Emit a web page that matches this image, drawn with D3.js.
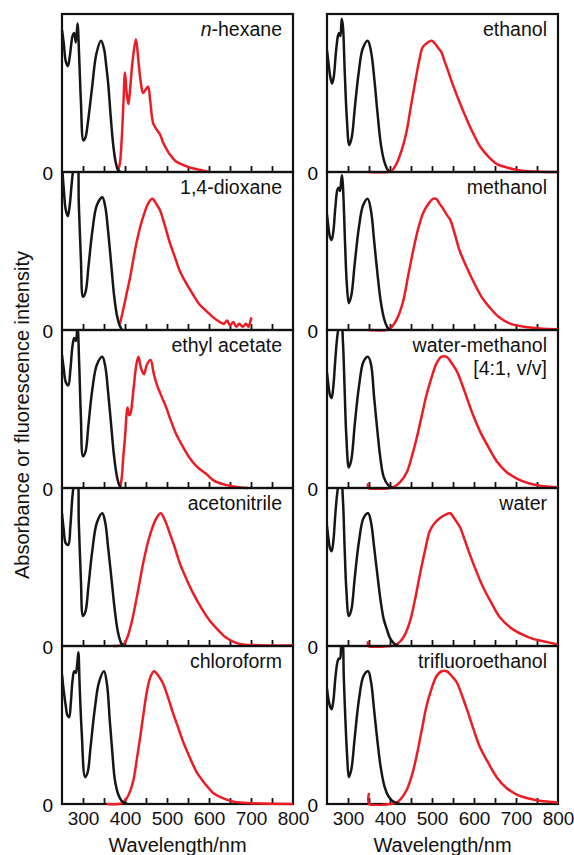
<!DOCTYPE html>
<html>
<head>
<meta charset="utf-8">
<script src="https://cdn.jsdelivr.net/npm/d3@7"></script>
<style>
  body { margin: 0; background: #fff; }
  svg { display: block; font-family: "Liberation Sans", Arial, sans-serif; }
</style>
</head>
<body>
<svg id="chart" width="574" height="855"></svg>
<script>
// wavelength axis
const wlDomain = [250, 800];
const minorTicks = [300, 350, 400, 450, 500, 550, 600, 650, 700, 750];
const tickLabels = [300, 400, 500, 600, 700, 800];

const leftSolvents = ['n-hexane', '1,4-dioxane', 'ethyl acetate', 'acetonitrile', 'chloroform'];
const rightSolvents = ['ethanol', 'methanol', 'water-methanol|[4:1, v/v]', 'water', 'trifluoroethanol'];

// [wavelength nm, normalised intensity]
const absHexane = [[250,0.90],[254,0.82],[259,0.70],[264,0.67],[269,0.74],[275,0.86],[279,0.88],[283,0.82],[287,0.94],[291,0.72],[295,0.45],[301,0.20],[306,0.22],[311,0.30],[321,0.52],[332,0.75],[343,0.83],[350,0.78],[355,0.68],[360,0.56],[366,0.35],[372,0.17],[378,0.06],[384,0.01],[390,0]];
const flHexane = [[383,0],[388,0.06],[392,0.2],[396,0.42],[400,0.63],[404,0.50],[408,0.43],[412,0.52],[418,0.70],[426,0.84],[432,0.70],[438,0.56],[443,0.50],[449,0.52],[455,0.54],[460,0.45],[467,0.31],[475,0.27],[483,0.24],[490,0.19],[500,0.14],[507,0.11],[520,0.07],[538,0.045],[558,0.025],[579,0.013],[600,0]];

const absDioxane = [[250,1.05],[254,0.90],[259,0.76],[264,0.72],[268,0.78],[274,0.95],[279,1.05],[286,1.08],[290,0.80],[295,0.45],[300,0.21],[306,0.24],[313,0.40],[322,0.62],[333,0.79],[346,0.84],[353,0.78],[360,0.62],[367,0.42],[374,0.22],[381,0.09],[387,0.03],[393,0]];
const flDioxane = [[388,0.04],[395,0.12],[403,0.22],[412,0.33],[420,0.45],[428,0.56],[436,0.65],[445,0.73],[455,0.80],[465,0.83],[474,0.80],[483,0.76],[495,0.66],[507,0.55],[519,0.46],[531,0.37],[547,0.29],[563,0.22],[578,0.16],[594,0.12],[610,0.08],[626,0.05],[636,0.04],[643,0.06],[650,0.03],[658,0.05],[665,0.02],[672,0.04],[680,0.02],[688,0.04],[694,0.02],[698,0.05],[701,0.08]];

const absEthylAcetate = [[250,0.84],[254,0.76],[259,0.67],[265,0.65],[270,0.75],[275,0.90],[279,0.95],[283,0.93],[287,1.02],[291,0.78],[295,0.45],[300,0.20],[306,0.23],[313,0.40],[322,0.62],[333,0.78],[346,0.83],[353,0.77],[360,0.60],[367,0.40],[374,0.20],[381,0.07],[386,0.02],[390,0]];
const flEthylAcetate = [[388,0],[392,0.06],[396,0.20],[400,0.32],[406,0.51],[410,0.46],[413,0.47],[420,0.62],[427,0.78],[432,0.83],[438,0.76],[445,0.72],[452,0.78],[461,0.81],[468,0.73],[475,0.66],[487,0.58],[498,0.51],[510,0.42],[522,0.34],[538,0.26],[554,0.19],[573,0.13],[593,0.09],[610,0.05],[626,0.03],[640,0.02],[657,0.01],[693,0]];

const absAcetonitrile = [[250,0.84],[254,0.74],[259,0.65],[265,0.64],[270,0.76],[275,0.95],[280,1.04],[286,1.06],[290,0.78],[295,0.42],[300,0.19],[306,0.22],[313,0.38],[322,0.60],[333,0.78],[346,0.84],[353,0.78],[360,0.62],[368,0.42],[376,0.22],[383,0.09],[389,0.03],[395,0]];
const flAcetonitrile = [[372,0],[396,0.01],[405,0.05],[413,0.12],[420,0.20],[431,0.35],[443,0.52],[454,0.65],[464,0.74],[475,0.81],[485,0.84],[496,0.79],[507,0.71],[519,0.62],[531,0.52],[547,0.42],[563,0.33],[582,0.24],[602,0.16],[622,0.10],[642,0.05],[660,0.025],[681,0.01],[720,0.005],[760,0.003],[800,0.005]];

const absChloroform = [[250,0.82],[254,0.72],[259,0.62],[263,0.56],[267,0.55],[271,0.64],[275,0.78],[279,0.84],[283,0.83],[286,0.88],[289,0.96],[292,0.75],[297,0.45],[305,0.17],[311,0.20],[318,0.36],[328,0.60],[338,0.77],[350,0.84],[357,0.76],[364,0.52],[370,0.32],[376,0.15],[384,0.06],[392,0.02],[405,0]];
const flChloroform = [[356,0],[385,0],[396,0.01],[405,0.04],[412,0.08],[420,0.15],[428,0.28],[436,0.42],[444,0.57],[452,0.71],[460,0.80],[469,0.84],[480,0.81],[491,0.76],[503,0.67],[515,0.57],[527,0.48],[539,0.39],[555,0.29],[571,0.20],[590,0.13],[610,0.07],[630,0.04],[658,0.015],[700,0.005],[800,0]];

const absEthanol = [[250,0.77],[254,0.68],[258,0.60],[262,0.56],[266,0.60],[271,0.75],[276,0.86],[279,0.88],[282,0.86],[285,0.97],[288,0.92],[292,0.65],[297,0.35],[303,0.17],[309,0.22],[316,0.40],[325,0.62],[335,0.78],[347,0.83],[355,0.76],[363,0.58],[370,0.38],[378,0.18],[386,0.07],[393,0.02],[400,0]];
const flEthanol = [[348,0],[395,0],[403,0.005],[415,0.05],[428,0.14],[439,0.25],[450,0.42],[462,0.60],[470,0.71],[478,0.79],[490,0.82],[499,0.83],[508,0.81],[516,0.78],[522,0.76],[530,0.70],[537,0.65],[550,0.55],[566,0.44],[580,0.35],[597,0.25],[615,0.16],[637,0.09],[655,0.05],[676,0.03],[700,0.015],[730,0.005],[800,0]];

const absMethanol = [[250,0.73],[253,0.66],[257,0.59],[261,0.57],[265,0.62],[270,0.78],[275,0.89],[278,0.90],[281,0.88],[284,0.95],[286,0.98],[289,0.85],[293,0.55],[297,0.30],[302,0.17],[308,0.22],[316,0.42],[326,0.65],[336,0.79],[347,0.83],[355,0.75],[362,0.57],[370,0.36],[378,0.18],[386,0.07],[393,0.02],[400,0]];
const flMethanol = [[348,0],[392,0],[400,0.01],[410,0.04],[420,0.09],[432,0.19],[443,0.34],[455,0.50],[467,0.64],[479,0.74],[492,0.80],[502,0.83],[510,0.83],[518,0.80],[526,0.77],[535,0.73],[543,0.70],[555,0.60],[566,0.50],[582,0.40],[598,0.31],[618,0.21],[638,0.14],[660,0.08],[686,0.04],[720,0.02],[757,0.01],[800,0.005]];

const absWaterMethanol = [[250,0.73],[253,0.66],[257,0.59],[261,0.57],[265,0.64],[270,0.82],[275,0.97],[280,1.04],[284,1.04],[288,0.92],[292,0.62],[296,0.33],[302,0.13],[308,0.18],[316,0.40],[326,0.64],[337,0.80],[348,0.83],[355,0.78],[362,0.58],[370,0.36],[378,0.17],[385,0.07],[395,0.02],[408,0]];
const flWaterMethanol = [[348,0.03],[349,0],[400,0],[412,0.01],[425,0.04],[440,0.10],[452,0.20],[463,0.31],[475,0.45],[487,0.59],[499,0.70],[511,0.79],[522,0.83],[535,0.83],[547,0.79],[559,0.74],[571,0.66],[583,0.57],[598,0.46],[614,0.36],[634,0.26],[654,0.17],[678,0.10],[702,0.06],[730,0.03],[757,0.015],[800,0.005]];

const absWater = [[250,0.76],[253,0.69],[257,0.62],[261,0.60],[265,0.66],[270,0.84],[275,0.98],[280,1.05],[284,1.04],[288,0.92],[292,0.62],[296,0.36],[302,0.19],[308,0.23],[316,0.43],[326,0.66],[337,0.81],[348,0.84],[355,0.78],[362,0.63],[370,0.45],[378,0.28],[385,0.17],[392,0.11],[400,0.05],[410,0.015],[420,0]];
const flWater = [[348,0.03],[349,0],[400,0],[412,0.005],[425,0.03],[437,0.08],[448,0.16],[460,0.30],[471,0.45],[483,0.60],[495,0.73],[507,0.78],[519,0.81],[531,0.83],[543,0.84],[555,0.80],[567,0.75],[578,0.67],[590,0.58],[606,0.47],[622,0.37],[642,0.27],[662,0.18],[690,0.11],[717,0.07],[740,0.045],[765,0.03],[800,0.01]];

const absTfe = [[250,0.73],[253,0.67],[257,0.62],[261,0.60],[265,0.65],[270,0.80],[275,0.90],[278,0.92],[281,0.92],[284,1.0],[287,1.02],[290,0.80],[294,0.52],[298,0.30],[302,0.17],[308,0.22],[316,0.42],[326,0.66],[337,0.81],[348,0.84],[355,0.77],[362,0.60],[370,0.40],[378,0.23],[387,0.11],[396,0.05],[408,0.015],[424,0]];
const flTfe = [[350,0.07],[351,0],[400,0],[412,0.005],[425,0.03],[440,0.09],[452,0.18],[463,0.30],[475,0.46],[487,0.62],[499,0.73],[511,0.81],[523,0.84],[535,0.84],[547,0.81],[559,0.77],[571,0.69],[583,0.60],[598,0.48],[614,0.36],[634,0.26],[654,0.17],[678,0.10],[702,0.06],[730,0.035],[757,0.02],[800,0.01]];

const leftAbs = [absHexane, absDioxane, absEthylAcetate, absAcetonitrile, absChloroform];
const leftFl = [flHexane, flDioxane, flEthylAcetate, flAcetonitrile, flChloroform];
const rightAbs = [absEthanol, absMethanol, absWaterMethanol, absWater, absTfe];
const rightFl = [flEthanol, flMethanol, flWaterMethanol, flWater, flTfe];

const svg = d3.select('#chart');
const top0 = 14, ph = 158;
const cols = [
  { x0: 62, x1: 293, names: leftSolvents, abs: leftAbs, fl: leftFl },
  { x0: 327, x1: 558, names: rightSolvents, abs: rightAbs, fl: rightFl }
];
const red = '#ec1c24';

cols.forEach((col, ci) => {
  const x = d3.scaleLinear().domain(wlDomain).range([col.x0, col.x1]);
  col.names.forEach((name, i) => {
    const t = top0 + i * ph, b = t + ph;
    const y = d3.scaleLinear().domain([0, 1]).range([b, t]);
    const g = svg.append('g');
    const cid = `clip-${ci}-${i}`;
    svg.append('clipPath').attr('id', cid)
      .append('rect').attr('x', col.x0).attr('y', t).attr('width', col.x1 - col.x0).attr('height', ph + 2);

    // inward ticks
    g.append('g').attr('transform', `translate(0,${b})`)
      .call(d3.axisBottom(x).tickValues(minorTicks).tickSize(-6).tickFormat(''))
      .call(a => a.select('.domain').remove())
      .call(a => a.selectAll('line').attr('stroke', '#111').attr('stroke-width', 1.8));

    g.append('rect').attr('x', col.x0).attr('y', t).attr('width', col.x1 - col.x0).attr('height', ph)
      .attr('fill', 'none').attr('stroke', '#111').attr('stroke-width', 2.2);

    const line = d3.line().x(d => x(d[0])).y(d => y(d[1])).curve(d3.curveCatmullRom.alpha(0.5));
    g.append('path').datum(col.fl[i]).attr('d', line).attr('clip-path', `url(#${cid})`)
      .attr('fill', 'none').attr('stroke', red).attr('stroke-width', 2.5).attr('stroke-linejoin', 'round');
    g.append('path').datum(col.abs[i]).attr('d', line).attr('clip-path', `url(#${cid})`)
      .attr('fill', 'none').attr('stroke', '#161616').attr('stroke-width', 2.5).attr('stroke-linejoin', 'round');

    // zero label
    g.append('text').attr('x', col.x0 - 9).attr('y', b + 8).attr('text-anchor', 'end')
      .attr('font-size', 19).text('0');

    // solvent label
    const lbl = g.append('text').attr('x', col.x1 - 11).attr('y', t + 22)
      .attr('text-anchor', 'end').attr('font-size', 19.5).attr('fill', '#111');
    if (name === 'n-hexane') {
      lbl.append('tspan').attr('font-style', 'italic').text('n');
      lbl.append('tspan').text('-hexane');
    } else {
      name.split('|').forEach((s, k) => {
        lbl.append('tspan').attr('x', col.x1 - 11).attr('dy', k ? 23 : 0).text(s);
      });
    }

    if (i === col.names.length - 1) {
      g.append('g').attr('transform', `translate(0,${b})`)
        .call(d3.axisBottom(x).tickValues(tickLabels).tickSize(0).tickPadding(8).tickFormat(d3.format('d')))
        .call(a => a.select('.domain').remove())
        .call(a => a.selectAll('text').attr('font-size', 19).attr('fill', '#111')
          .attr('font-family', '"Liberation Sans", Arial, sans-serif'));
      g.append('text').attr('x', (col.x0 + col.x1) / 2).attr('y', 852).attr('text-anchor', 'middle')
        .attr('font-size', 20).attr('fill', '#111').text('Wavelength/nm');
    }
  });
});

svg.append('text').attr('transform', 'translate(29,415) rotate(-90)').attr('text-anchor', 'middle')
  .attr('font-size', 20).attr('fill', '#111').text('Absorbance or fluorescence intensity');
</script>
</body>
</html>
